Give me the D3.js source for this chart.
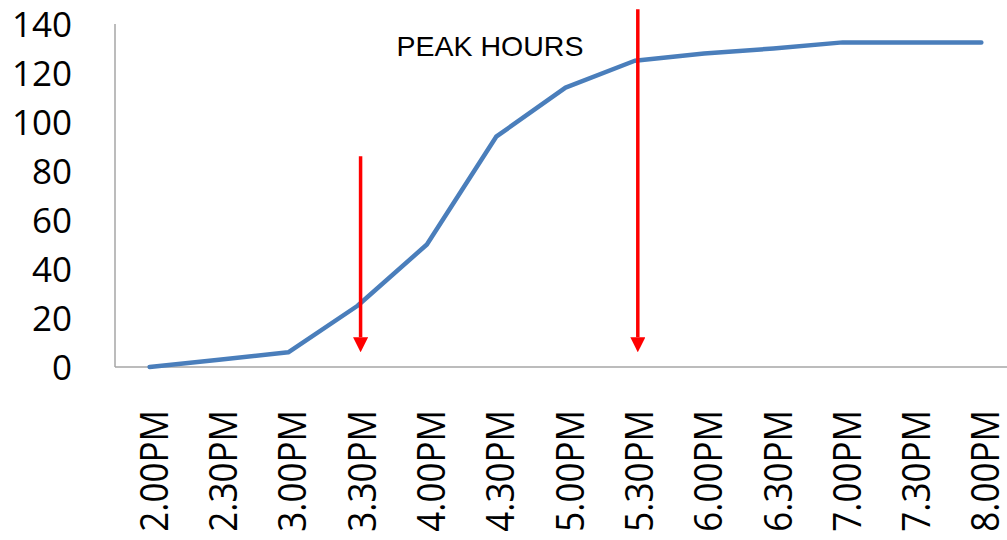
<!DOCTYPE html>
<html>
<head>
<meta charset="utf-8">
<script src="https://cdn.jsdelivr.net/npm/d3@7"></script>
<style>
  body { margin: 0; background: #fff; }
  svg { display: block; }
</style>
</head>
<body>
<div id="chart"></div>
<script>
// Daten
const times = ["2.00PM", "2.30PM", "3.00PM", "3.30PM", "4.00PM", "4.30PM", "5.00PM",
               "5.30PM", "6.00PM", "6.30PM", "7.00PM", "7.30PM", "8.00PM"];
const counts = [0, 3, 6, 25, 50, 94, 114, 125, 128, 130, 132.5, 132.5, 132.5];
const yTicks = [0, 20, 40, 60, 80, 100, 120, 140];

// Pfeile für die Hauptverkehrszeit (Start- und Endwert auf der y-Achse)
const arrowTimes = ["3.30PM", "5.30PM"];
const arrowFrom = [86, 146];
const arrowTo = [6, 6];
const noteText = "PEAK HOURS";

const width = 1007, height = 540;
const plotLeft = 115, plotRight = 1016, plotTop = 24, plotBottom = 367;

const svg = d3.select("#chart").append("svg")
    .attr("width", width)
    .attr("height", height);

const x = d3.scalePoint()
    .domain(times)
    .range([plotLeft, plotRight])
    .padding(0.5);

const y = d3.scaleLinear()
    .domain([0, 140])
    .range([plotBottom, plotTop]);

// Achsenlinien
svg.append("line")
    .attr("x1", plotLeft).attr("x2", plotLeft)
    .attr("y1", y(140)).attr("y2", y(0))
    .attr("stroke", "#a6a6a6").attr("stroke-width", 1.5);
svg.append("line")
    .attr("x1", plotLeft).attr("x2", plotRight)
    .attr("y1", y(0)).attr("y2", y(0))
    .attr("stroke", "#a6a6a6").attr("stroke-width", 1.5);

// y-Achse Beschriftung
const yAxis = d3.axisLeft(y).tickValues(yTicks).tickSize(0).tickPadding(0);
const gy = svg.append("g")
    .attr("transform", "translate(72,0)")
    .call(yAxis);
gy.select(".domain").remove();
gy.selectAll("text")
    .attr("font-family", "'Open Sans', sans-serif")
    .attr("font-size", 35)
    .attr("fill", "#000")
    .attr("dy", "0.36em");

// x-Achse Beschriftung (um 90 Grad gedreht)
const gx = svg.append("g");
gx.selectAll("text")
    .data(times)
    .enter().append("text")
    .attr("transform", d => "translate(" + (x(d) + 4) + ",410) rotate(-90) scale(1,1.12)")
    .attr("text-anchor", "end")
    .attr("dy", "0.36em")
    .attr("font-family", "'Open Sans', sans-serif")
    .attr("font-size", 35)
    .attr("fill", "#000")
    .text(d => d);

// Linie
const line = d3.line()
    .x((d, i) => x(times[i]))
    .y(d => y(d));

svg.append("path")
    .datum(counts)
    .attr("d", line)
    .attr("fill", "none")
    .attr("stroke", "#4a7ebb")
    .attr("stroke-width", 4.5)
    .attr("stroke-linejoin", "round")
    .attr("stroke-linecap", "round");

// Pfeile
svg.append("defs").append("marker")
    .attr("id", "head")
    .attr("viewBox", "0 0 10 10")
    .attr("refX", 0).attr("refY", 5)
    .attr("markerUnits", "userSpaceOnUse")
    .attr("markerWidth", 15).attr("markerHeight", 15)
    .attr("orient", "auto")
    .append("path")
    .attr("d", "M0,0 L10,5 L0,10 Z")
    .attr("fill", "#ff0000");

for (let i = 0; i < arrowTimes.length; i++) {
    const ax = x(arrowTimes[i]) + 3;
    svg.append("line")
        .attr("x1", ax).attr("x2", ax)
        .attr("y1", y(arrowFrom[i]))
        .attr("y2", y(arrowTo[i]) - 15)
        .attr("stroke", "#ff0000")
        .attr("stroke-width", 3.5)
        .attr("marker-end", "url(#head)");
}

// Hinweistext
svg.append("text")
    .attr("x", 490)
    .attr("y", 56)
    .attr("text-anchor", "middle")
    .attr("font-family", "'Liberation Sans', Arial, sans-serif")
    .attr("font-size", 28.5)
    .attr("fill", "#000")
    .text(noteText);
</script>
</body>
</html>
